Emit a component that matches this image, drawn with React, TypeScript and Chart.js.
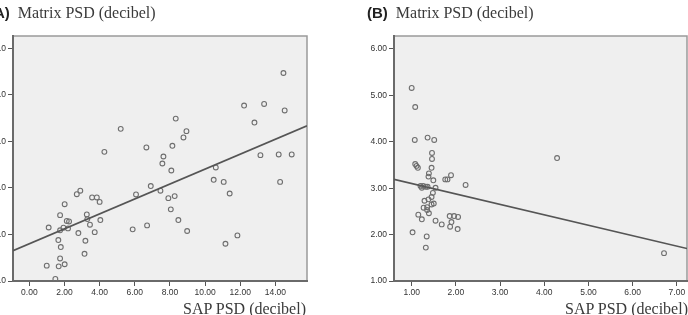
import React, { useEffect, useRef } from "react";
import { Chart, registerables } from "chart.js";
Chart.register(...registerables);

// ---------- Panel A ----------
const aPointsX = [5.2, 4.27, 6.66, 8.14, 8.33, 7.63, 7.57, 8.08, 14.46, 12.22, 13.36, 14.53, 12.81, 8.94, 8.77, 13.15, 14.19, 14.93, 10.61, 10.49, 7.46, 11.06, 14.27, 11.4, 7.91, 8.27, 8.05, 8.48, 8.98, 11.84, 11.16, 1.1, 1.75, 2.01, 2.7, 2.9, 3.57, 3.84, 4.0, 3.27, 3.3, 3.45, 4.04, 3.72, 2.79, 3.19, 3.14, 1.75, 1.94, 2.13, 2.26, 2.2, 1.65, 1.79, 1.75, 0.99, 1.67, 2.01, 1.48, 5.88, 6.7, 6.91, 6.07];
const aPointsY = [18.54, 17.55, 17.74, 17.81, 18.98, 17.35, 17.05, 16.75, 20.94, 19.54, 19.61, 19.33, 18.81, 18.44, 18.17, 17.41, 17.44, 17.44, 16.88, 16.35, 15.88, 16.26, 16.26, 15.76, 15.56, 15.65, 15.08, 14.62, 14.15, 13.96, 13.6, 14.3, 14.83, 15.3, 15.73, 15.88, 15.59, 15.59, 15.4, 14.86, 14.66, 14.42, 14.62, 14.1, 14.06, 13.73, 13.17, 14.18, 14.29, 14.58, 14.56, 14.26, 13.76, 13.46, 12.97, 12.66, 12.63, 12.72, 12.09, 14.22, 14.39, 16.08, 15.72];
const aFitX = [-0.93, 15.8];
const aFitY = [13.3, 18.67];
const aXTicks = [0, 2, 4, 6, 8, 10, 12, 14];
const aYTicks = [12, 14, 16, 18, 20, 22];
const aXRange = [-0.93, 15.8];
const aYRange = [12, 22.53];

// ---------- Panel B ----------
const bPointsX = [1.0, 1.08, 1.07, 1.36, 1.51, 1.46, 1.46, 1.45, 1.08, 1.11, 1.14, 1.39, 1.38, 1.49, 1.89, 1.76, 1.81, 2.22, 1.2, 1.26, 1.32, 1.36, 1.23, 1.54, 1.48, 1.45, 1.29, 1.38, 1.5, 1.27, 1.35, 1.45, 1.35, 1.39, 1.15, 1.23, 1.54, 1.68, 1.86, 1.96, 2.05, 1.9, 1.87, 2.04, 1.02, 1.34, 1.32, 4.29, 6.71];
const bPointsY = [5.16, 4.75, 4.04, 4.09, 4.04, 3.76, 3.63, 3.44, 3.52, 3.48, 3.44, 3.32, 3.25, 3.17, 3.28, 3.19, 3.19, 3.07, 3.05, 3.05, 3.03, 3.03, 3.01, 3.01, 2.9, 2.81, 2.73, 2.76, 2.67, 2.58, 2.59, 2.65, 2.53, 2.46, 2.43, 2.33, 2.3, 2.22, 2.4, 2.4, 2.38, 2.27, 2.17, 2.12, 2.05, 1.96, 1.72, 3.65, 1.6];
const bFitX = [0.6, 7.23];
const bFitY = [3.19, 1.7];
const bXTicks = [1, 2, 3, 4, 5, 6, 7];
const bYTicks = [1, 2, 3, 4, 5, 6];
const bXRange = [0.6, 7.23];
const bYRange = [1, 6.28];

const TICK_FONT = { family: '"Liberation Sans", Arial, sans-serif', size: 8.5 };

const bgPlugin = {
  id: "plotBg",
  beforeDraw(chart: any) {
    const { ctx, chartArea } = chart;
    const { left, top, right, bottom } = chartArea;
    ctx.save();
    ctx.fillStyle = "#efefef";
    ctx.fillRect(left, top, right - left, bottom - top);
    ctx.strokeStyle = "#9a9a9a";
    ctx.lineWidth = 1.5;
    ctx.strokeRect(left, top, right - left, bottom - top);
    ctx.restore();
  },
};

type PanelProps = {
  xs: number[];
  ys: number[];
  fitX: number[];
  fitY: number[];
  xTicks: number[];
  yTicks: number[];
  xRange: number[];
  yRange: number[];
  yDigits: number;
  yAxisWidth: number;
  padRight: number;
  width: number;
  left: number;
};

function Panel(p: PanelProps) {
  const ref = useRef<HTMLCanvasElement | null>(null);
  useEffect(() => {
    if (!ref.current) return;
    const chart = new Chart(ref.current, {
      type: "scatter",
      data: {
        datasets: [
          {
            type: "scatter",
            data: p.xs.map((x, i) => ({ x, y: p.ys[i] })),
            pointRadius: 2.4,
            pointBorderWidth: 1.1,
            pointBorderColor: "#6e6e6e",
            pointBackgroundColor: "rgba(0,0,0,0)",
            order: 1,
          } as any,
          {
            type: "line",
            data: p.fitX.map((x, i) => ({ x, y: p.fitY[i] })),
            borderColor: "#555555",
            borderWidth: 1.7,
            pointRadius: 0,
            fill: false,
            order: 0,
          } as any,
        ],
      },
      options: {
        animation: false,
        responsive: false,
        maintainAspectRatio: false,
        events: [],
        layout: {
          padding: { left: 0, top: 36, right: p.padRight, bottom: 0 },
          autoPadding: false,
        } as any,
        plugins: { legend: { display: false }, tooltip: { enabled: false } },
        scales: {
          x: {
            type: "linear",
            min: p.xRange[0],
            max: p.xRange[1],
            afterBuildTicks: (s: any) => {
              s.ticks = p.xTicks.map((v) => ({ value: v }));
            },
            afterFit: (s: any) => {
              s.height = 34;
            },
            ticks: {
              callback: (v: any) => Number(v).toFixed(2),
              font: TICK_FONT,
              color: "#333",
              padding: 2,
              maxRotation: 0,
              autoSkip: false,
            },
            grid: { drawOnChartArea: false, drawTicks: true, tickLength: 5, color: "#555", lineWidth: 1 },
            border: { display: true, color: "#6a6a6a", width: 2 },
          },
          y: {
            type: "linear",
            min: p.yRange[0],
            max: p.yRange[1],
            afterBuildTicks: (s: any) => {
              s.ticks = p.yTicks.map((v) => ({ value: v }));
            },
            afterFit: (s: any) => {
              s.width = p.yAxisWidth;
            },
            ticks: {
              callback: (v: any) => Number(v).toFixed(p.yDigits),
              font: TICK_FONT,
              color: "#333",
              padding: 2,
              autoSkip: false,
            },
            grid: { drawOnChartArea: false, drawTicks: true, tickLength: 5, color: "#555", lineWidth: 1 },
            border: { display: true, color: "#6a6a6a", width: 2 },
          },
        },
      } as any,
      plugins: [bgPlugin],
    });
    return () => chart.destroy();
  }, []);
  return (
    <canvas
      ref={ref}
      width={p.width}
      height={315}
      style={{ position: "absolute", left: p.left, top: 0, width: p.width, height: 315 }}
    />
  );
}

const serif = '"Liberation Serif", "Times New Roman", serif';
const sans = '"Liberation Sans", Arial, sans-serif';

function Title({ label, left }: { label: string; left: number }) {
  return (
    <div
      style={{
        position: "absolute",
        left,
        top: 5,
        whiteSpace: "nowrap",
        lineHeight: "16px",
        fontSize: 16,
      }}
    >
      <span style={{ fontFamily: sans, fontWeight: "bold", fontSize: 15, color: "#222" }}>{label}</span>
      <span style={{ fontFamily: serif, color: "#3a3a3a", marginLeft: 8 }}>Matrix PSD (decibel)</span>
    </div>
  );
}

function XTitle({ right }: { right: number }) {
  return (
    <div
      style={{
        position: "absolute",
        left: right - 200,
        width: 200,
        textAlign: "right",
        top: 301,
        whiteSpace: "nowrap",
        lineHeight: "16px",
        fontSize: 16,
        fontFamily: serif,
        color: "#3a3a3a",
      }}
    >
      SAP PSD (decibel)
    </div>
  );
}

export default function App() {
  return (
    <div
      style={{
        position: "fixed",
        left: 0,
        top: 0,
        width: 688,
        height: 315,
        overflow: "hidden",
        background: "#fff",
      }}
    >
      <Panel
        xs={aPointsX}
        ys={aPointsY}
        fitX={aFitX}
        fitY={aFitY}
        xTicks={aXTicks}
        yTicks={aYTicks}
        xRange={aXRange}
        yRange={aYRange}
        yDigits={1}
        yAxisWidth={53}
        padRight={2}
        width={349}
        left={-40}
      />
      <Panel
        xs={bPointsX}
        ys={bPointsY}
        fitX={bFitX}
        fitY={bFitY}
        xTicks={bXTicks}
        yTicks={bYTicks}
        xRange={bXRange}
        yRange={bYRange}
        yDigits={2}
        yAxisWidth={54}
        padRight={1}
        width={348}
        left={340}
      />
      <Title label="(A)" left={-11} />
      <Title label="(B)" left={367} />
      <XTitle right={306} />
      <XTitle right={688} />
    </div>
  );
}
